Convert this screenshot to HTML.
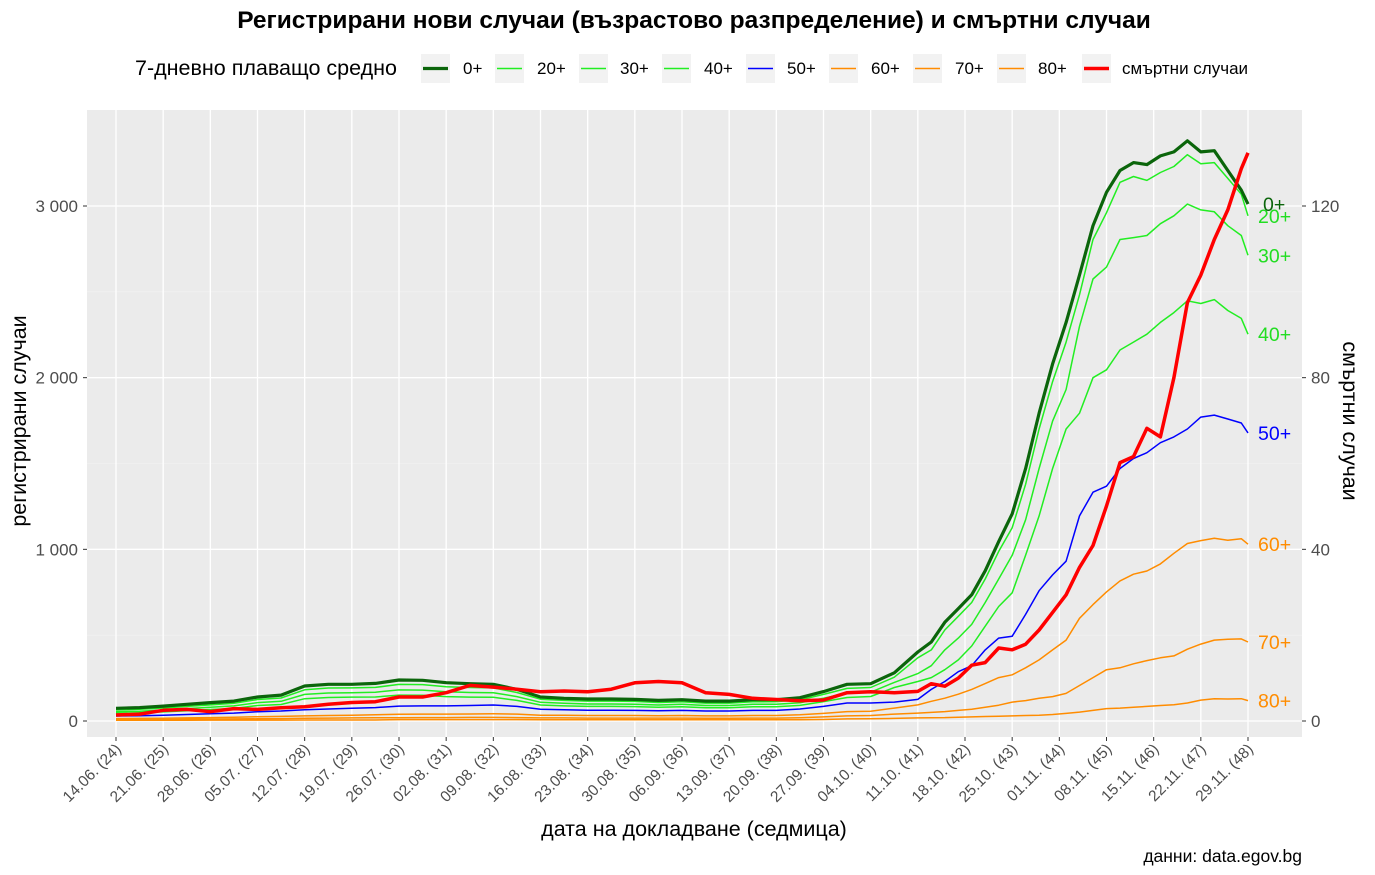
<!DOCTYPE html>
<html><head><meta charset="utf-8">
<style>
body{margin:0;background:#fff;font-family:"Liberation Sans","DejaVu Sans",sans-serif;}
svg{display:block}
</style></head>
<body>
<svg id="chart" width="1375" height="875" xmlns="http://www.w3.org/2000/svg">
<text x="694" y="28" text-anchor="middle" font-size="24.5" font-weight="bold" fill="#000">Регистрирани нови случаи (възрастово разпределение) и смъртни случаи</text>
<g id="legend"></g>
<rect x="87" y="110" width="1215" height="627" fill="#ebebeb"/>
<g id="grid"></g>
<g id="series"></g>
<g id="axes"></g>
<text transform="translate(26,421) rotate(-90)" text-anchor="middle" font-size="21.5" fill="#000">регистрирани случаи</text>
<text transform="translate(1343,421) rotate(90)" text-anchor="middle" font-size="21.5" fill="#000">смъртни случаи</text>
<text x="694" y="836" text-anchor="middle" font-size="21.5" fill="#000">дата на докладване (седмица)</text>
<text x="1302" y="862" text-anchor="end" font-size="17.5" fill="#000">данни: data.egov.bg</text>
</svg>
<script>
const days=[0,3.5,7,10.5,14,17.5,21,24.5,28,31.5,35,38.5,42,45.5,49,52.5,56,59.5,63,66.5,70,73.5,77,80.5,84,87.5,91,94.5,98,101.5,105,108.5,112,115.5,
119,121,123,125,127,129,131,133,135,137,139,141,143,145,147,149,151,153,155,157,159,161,163,165,167,168];
const tickLabels=["14.06. (24)","21.06. (25)","28.06. (26)","05.07. (27)","12.07. (28)","19.07. (29)","26.07. (30)","02.08. (31)","09.08. (32)","16.08. (33)","23.08. (34)","30.08. (35)","06.09. (36)","13.09. (37)","20.09. (38)","27.09. (39)","04.10. (40)","11.10. (41)","18.10. (42)","25.10. (43)","01.11. (44)","08.11. (45)","15.11. (46)","22.11. (47)","29.11. (48)"];
const yTicks=[0,1000,2000,3000];
const yTickLabels=["0","1 000","2 000","3 000"];
const y2Ticks=[0,40,80,120];
const s0=[74,78,87,97,107,116,140,151,204,214,214,219,239,237,223,217,214,184,140,132,128,128,126,120,124,116,116,124,124,136,171,214,217,281,
402,460,575,655,735,875,1045,1207,1470,1793,2080,2322,2598,2885,3080,3207,3253,3241,3292,3315,3380,3315,3322,3207,3092,3011];
const s20=[64,68,76,85,94,103,125,134,182,192,193,196,213,212,200,195,193,166,127,120,116,116,114,108,112,104,104,112,113,123,155,190,195,255,
368,414,530,610,690,827,988,1126,1379,1701,1977,2207,2483,2805,2961,3138,3172,3149,3195,3230,3299,3246,3253,3161,3069,2943];
const s30=[54,57,64,72,80,88,107,115,155,163,165,168,181,180,170,166,165,142,109,103,99,99,98,93,97,90,90,97,97,106,133,162,168,225,
276,322,414,483,563,690,827,965,1172,1471,1747,1931,2299,2575,2644,2805,2816,2828,2897,2943,3011,2977,2966,2885,2828,2713];
const s40=[45,48,53,60,67,73,90,96,130,137,139,140,151,150,142,139,138,120,93,88,85,85,84,80,83,77,77,83,83,91,113,137,143,195,
230,253,299,356,437,552,667,747,965,1195,1471,1701,1793,2000,2046,2161,2207,2253,2322,2379,2448,2432,2455,2391,2345,2253];
const s50=[29,31,34,38,42,46,54,58,66,70,74,78,87,88,88,90,93,85,68,65,63,63,62,60,62,58,58,62,62,70,85,105,105,110,
126,184,230,287,322,414,483,494,621,759,851,931,1195,1333,1368,1471,1529,1563,1621,1655,1701,1770,1782,1759,1736,1678];
const s60=[14,15,16,18,20,22,25,27,30,32,34,36,39,40,40,41,42,40,34,33,32,32,32,31,32,30,30,32,32,36,44,55,57,75,
94,115,133,156,184,218,253,269,310,356,414,471,598,678,752,816,855,874,915,977,1034,1051,1064,1053,1062,1030];
const s70=[8,8,9,10,11,12,13,14,16,17,18,19,19,20,20,21,21,20,18,18,17,17,17,17,17,16,16,17,17,19,24,30,32,40,
46,50,55,62,69,80,92,110,119,133,142,161,207,253,299,310,333,352,368,379,418,448,471,476,478,460];
const s80=[4,4,4,4,5,5,5,5,6,6,6,6,8,8,8,8,8,8,7,7,7,7,7,7,7,7,7,7,7,7,9,12,13,15,
18,19,20,22,24,26,28,30,32,34,38,44,52,62,72,75,80,85,90,95,105,122,130,128,130,119];
const deaths=[1.4,1.6,2.5,2.7,2.2,2.9,2.7,3.1,3.3,3.9,4.3,4.5,5.6,5.6,6.6,8.3,7.9,7.4,6.8,7.0,6.8,7.4,8.9,9.2,8.9,6.6,6.2,5.3,5.0,4.7,4.9,6.6,6.8,6.6,
6.9,8.7,8.1,10.0,13.0,13.6,17.0,16.6,17.9,21.2,25.3,29.4,35.8,40.9,50.1,60.2,61.6,68.2,66.2,80.0,97.5,103.9,112.2,119.1,128.7,132.4];

const NS="http://www.w3.org/2000/svg";
const X=d=>116+d*(1248-116)/168;
const Y=v=>721-v*(721-206)/3000;
const Y2=v=>721-v*(721-206)/120;
function mk(tag,attrs,parent){const e=document.createElementNS(NS,tag);for(const k in attrs)e.setAttribute(k,attrs[k]);parent.appendChild(e);return e;}
const grid=document.getElementById('grid'),axes=document.getElementById('axes'),ser=document.getElementById('series'),leg=document.getElementById('legend');
[500,1500,2500].forEach(v=>{const l=mk('line',{x1:87,x2:1302,y1:Y(v),y2:Y(v),stroke:'#f3f3f3','stroke-width':0.6},grid);

});
yTicks.forEach((v,i)=>{
 const l=mk('line',{x1:87,x2:1302,y1:Y(v),y2:Y(v),stroke:'#fff','stroke-width':1.3},grid);
 
 
 const t=mk('text',{x:78,y:Y(v)+6,'text-anchor':'end','font-size':17,fill:'#4d4d4d'},axes);t.textContent=yTickLabels[i];
 
 
 mk('line',{x1:83,x2:87,y1:Y(v),y2:Y(v),stroke:'#333','stroke-width':1},axes);
});
y2Ticks.forEach(v=>{
 const t=mk('text',{x:1311,y:Y2(v)+6,'font-size':17,fill:'#4d4d4d'},axes);t.textContent=String(v);
 
 
 mk('line',{x1:1302,x2:1306,y1:Y2(v),y2:Y2(v),stroke:'#333','stroke-width':1},axes);
});
tickLabels.forEach((s,i)=>{
 const x=X(i*7);
 const l=mk('line',{x1:x,x2:x,y1:110,y2:737,stroke:'#fff','stroke-width':1.3},grid);
 
 
 mk('line',{x1:x,x2:x,y1:737,y2:741,stroke:'#333','stroke-width':1},axes);
 const t=mk('text',{transform:`translate(${x+6},${750}) rotate(-45)`,'text-anchor':'end','font-size':15.5,fill:'#4d4d4d'},axes);
 t.textContent=s;
 
 
});
const series=[
 {n:'80+',d:s80,c:'#ff8c00',w:1.5,lx:1258},
 {n:'70+',d:s70,c:'#ff8c00',w:1.5,lx:1258},
 {n:'60+',d:s60,c:'#ff8c00',w:1.5,lx:1258},
 {n:'50+',d:s50,c:'#0000ff',w:1.5,lx:1258},
 {n:'40+',d:s40,c:'#22ee22',w:1.5,lx:1258},
 {n:'30+',d:s30,c:'#22ee22',w:1.5,lx:1258},
 {n:'20+',d:s20,c:'#22ee22',w:1.5,lx:1258},
 {n:'0+',d:s0,c:'#0b650b',w:3.2,lx:1263}
];
series.forEach(s=>{
 const p=mk('polyline',{points:s.d.map((v,i)=>X(days[i]).toFixed(1)+','+Y(v).toFixed(1)).join(' '),fill:'none',stroke:s.c,'stroke-width':s.w,'stroke-linejoin':'round'},ser);
 
 
});
const dl=mk('polyline',{points:deaths.map((v,i)=>X(days[i]).toFixed(1)+','+Y2(v).toFixed(1)).join(' '),fill:'none',stroke:'#ff0000','stroke-width':3.5,'stroke-linejoin':'round'},ser);


series.forEach(s=>{
 const last=s.d[s.d.length-1];
 const t=mk('text',{x:s.lx,y:Y(last)+7,'font-size':19.5,fill:s.c==='#22ee22'?'#22dd22':s.c},ser);
 t.textContent=s.n;
 
 
});
const lt=mk('text',{x:135,y:75,'font-size':21.5,fill:'#000'},leg);lt.textContent='7-дневно плаващо средно';


const legItems=[['0+','#0b650b',3.2,421,463],['20+','#22ee22',1.5,495,537],['30+','#22ee22',1.5,579,620],['40+','#22ee22',1.5,662,704],['50+','#0000ff',1.5,746,787],['60+','#ff8c00',1.5,829,871],['70+','#ff8c00',1.5,913,955],['80+','#ff8c00',1.5,997,1038],['смъртни случаи','#ff0000',3.5,1082,1122]];
legItems.forEach(it=>{
 const g=mk('g',{},leg);
 
 
 mk('rect',{x:it[3],y:54,width:29,height:29,fill:'#f2f2f2'},g);
 mk('line',{x1:it[3]+2,x2:it[3]+27,y1:68.5,y2:68.5,stroke:it[1],'stroke-width':it[2]},g);
 const t=mk('text',{x:it[4],y:74,'font-size':17,fill:'#000'},g);t.textContent=it[0];
});
</script>
</body></html>
